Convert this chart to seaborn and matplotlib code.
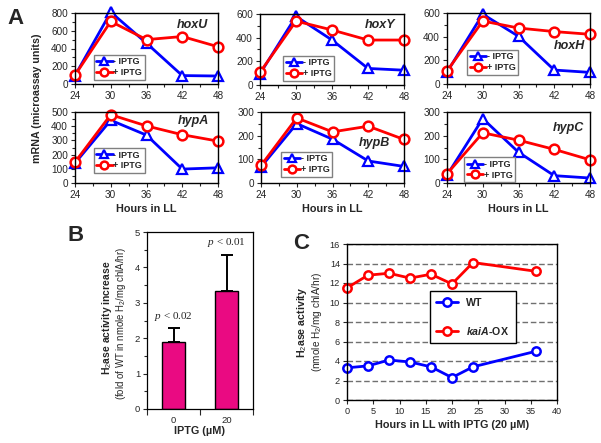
'''
Hydrogenase gene expression (A), H2ase fold increase (B) and H2ase time course (C)
'''

import numpy as np
import pandas as pd
import matplotlib
matplotlib.use('Agg')
import matplotlib.pyplot as plt
from matplotlib.ticker import MultipleLocator
import seaborn as sns

sns.set_style('ticks')
plt.rcParams['font.family'] = ['Liberation Sans', 'DejaVu Sans']
plt.rcParams['mathtext.fontset'] = 'custom'
plt.rcParams['mathtext.rm'] = 'Liberation Sans'
plt.rcParams['mathtext.it'] = 'Liberation Serif:italic'
plt.rcParams['mathtext.bf'] = 'Liberation Sans:bold'
plt.rcParams['mathtext.bfit'] = 'Liberation Sans:italic:bold'

# ---- data -------------------------------------------------------------------
hours_a = [24, 30, 36, 42, 48]
genes = ['hoxU', 'hoxY', 'hoxH', 'hypA', 'hypB', 'hypC']
minus_iptg = {
    'hoxU': [95, 810, 460, 95, 90],
    'hoxY': [95, 580, 380, 140, 125],
    'hoxH': [100, 590, 403, 118, 98],
    'hypA': [140, 442, 337, 98, 107],
    'hypB': [68, 251, 185, 93, 70],
    'hypC': [33, 272, 130, 31, 21],
}
plus_iptg = {
    'hoxU': [100, 705, 500, 535, 420],
    'hoxY': [107, 540, 465, 380, 380],
    'hoxH': [110, 532, 473, 443, 420],
    'hypA': [147, 481, 402, 340, 295],
    'hypB': [74, 275, 216, 240, 184],
    'hypC': [39, 212, 181, 142, 98],
}
y_max = {'hoxU': 800, 'hoxY': 600, 'hoxH': 600, 'hypA': 500, 'hypB': 300, 'hypC': 300}
y_step = {'hoxU': 200, 'hoxY': 200, 'hoxH': 200, 'hypA': 100, 'hypB': 100, 'hypC': 100}

iptg_labels = ['0', '20']
fold_increase = [1.88, 3.32]
fold_err = [0.40, 1.04]
p_labels = [r'$p$ < 0.02', r'$p$ < 0.01']
p_heights = [2.6, 4.69]

hours_c = [0, 4, 8, 12, 16, 20, 24, 36]
wt_activity = [3.3, 3.5, 4.1, 3.9, 3.4, 2.3, 3.4, 5.0]
kaia_activity = [11.5, 12.8, 13.0, 12.5, 12.9, 11.9, 14.1, 13.2]

BLUE = '#0000FF'
RED = '#FF0000'
PINK = '#EA0A82'

W, H = 601, 443
fig = plt.figure(figsize=(W / 100, H / 100), dpi=100)


def px_axes(left, top, right, bottom):
    return fig.add_axes([left / W, 1 - bottom / H, (right - left) / W, (bottom - top) / H])


def box(ax, lw=1.0):
    for sp in ax.spines.values():
        sp.set_visible(True)
        sp.set_linewidth(lw)
        sp.set_color('black')


# ---- panel A ----------------------------------------------------------------
a_boxes = {
    'hoxU': (75, 13, 218, 84), 'hoxY': (260, 14, 404, 85), 'hoxH': (447, 13, 590, 84),
    'hypA': (75, 112, 218, 183), 'hypB': (261, 112, 404, 183), 'hypC': (447, 112, 590, 183),
}
legend_pos = {'hoxU': (0.13, 0.06), 'hoxY': (0.16, 0.06), 'hoxH': (0.14, 0.13),
              'hypA': (0.13, 0.14), 'hypB': (0.14, 0.085), 'hypC': (0.12, 0.01)}
name_pos = {'hoxU': (0.93, 0.83), 'hoxY': (0.94, 0.85), 'hoxH': (0.965, 0.535),
            'hypA': (0.94, 0.87), 'hypB': (0.9, 0.56), 'hypC': (0.96, 0.77)}

for g in genes:
    ax = px_axes(*a_boxes[g])
    sns.lineplot(x=hours_a, y=minus_iptg[g], ax=ax, color=BLUE, marker='^', ms=7,
                 mfc='white', mec=BLUE, mew=1.6, lw=2, label='- IPTG', clip_on=False)
    sns.lineplot(x=hours_a, y=plus_iptg[g], ax=ax, color=RED, marker='o', ms=7,
                 mfc='white', mec=RED, mew=1.8, lw=2, label='+ IPTG', clip_on=False)
    ax.set_xlim(24, 48)
    ax.set_xticks(hours_a)
    ax.xaxis.set_minor_locator(MultipleLocator(3))
    ax.set_ylim(0, y_max[g])
    ax.set_yticks(np.arange(0, y_max[g] + 1, y_step[g]))
    ax.yaxis.set_minor_locator(MultipleLocator(y_step[g] / 2))
    ax.tick_params(which='major', length=3, width=0.8, labelsize=7.2, pad=2)
    ax.tick_params(which='minor', length=2, width=0.8)
    box(ax)
    ax.set_ylabel('')
    if g.startswith('hyp'):
        ax.set_xlabel('Hours in LL', fontweight='bold', fontsize=7.8, labelpad=3)
    else:
        ax.set_xlabel('')
    ax.text(*name_pos[g], g, transform=ax.transAxes, ha='right', va='center',
            fontsize=9, fontweight='bold', fontstyle='italic')
    leg = ax.legend(loc='lower left', bbox_to_anchor=legend_pos[g], borderaxespad=0,
                    prop={'weight': 'bold', 'size': 6.5}, fancybox=False, framealpha=1,
                    edgecolor='#808080', handlelength=1.8, handletextpad=0.1,
                    borderpad=0.3, labelspacing=0.2, markerscale=0.8)
    leg.get_frame().set_linewidth(1.0)

fig.text(37 / W, 1 - 98 / H, 'mRNA (microassay units)', rotation=90, ha='center',
         va='center', fontweight='bold', fontsize=7.7)
fig.text(16 / W, 1 - 18 / H, 'A', ha='center', va='center', fontweight='bold', fontsize=16)

# ---- panel B ----------------------------------------------------------------
axb = px_axes(147, 232, 253, 409)
df_b = pd.DataFrame({'iptg': iptg_labels, 'fold': fold_increase})
sns.barplot(data=df_b, x='iptg', y='fold', ax=axb, color=PINK, saturation=1,
            edgecolor='black', linewidth=1.0, width=0.45, errorbar=None)
axb.errorbar(x=[0, 1], y=fold_increase, yerr=[np.zeros(2), fold_err], fmt='none',
             ecolor='black', elinewidth=1.4, capsize=4, capthick=1.4)
for i, (lab, h) in enumerate(zip(p_labels, p_heights)):
    axb.text(i, h, lab, ha='center', va='center', family='Liberation Serif', fontsize=8)
axb.set_xlim(-0.5, 1.5)
axb.set_ylim(0, 5)
axb.yaxis.set_minor_locator(MultipleLocator(0.5))
axb.set_xticks([-0.5, 0.5, 1.5], minor=True)
axb.tick_params(axis='x', which='major', length=0, labelsize=6.8, pad=5)
axb.tick_params(axis='x', which='minor', length=4, width=0.8)
axb.tick_params(axis='y', which='major', length=3, width=0.8, labelsize=6.8, pad=2)
axb.tick_params(axis='y', which='minor', length=2, width=0.8)
box(axb, 0.9)
axb.set_ylabel('')
axb.set_xlabel('IPTG (\u00b5M)', fontweight='bold', fontsize=7.8, labelpad=1)
fig.text(107 / W, 1 - 318 / H, 'H$_2$ase activity increase', rotation=90, ha='center',
         va='center', fontweight='bold', fontsize=7.5)
fig.text(121 / W, 1 - 323 / H, '(fold of WT in nmole H$_2$/mg chlA/hr)', rotation=90,
         ha='center', va='center', fontsize=6.9)
fig.text(76 / W, 1 - 236 / H, 'B', ha='center', va='center', fontweight='bold', fontsize=16)

# ---- panel C ----------------------------------------------------------------
axc = px_axes(347, 244, 557, 400)
axc.set_axisbelow(True)
axc.yaxis.grid(True, linestyle=(0, (4, 2)), color='#707070', lw=1.0)
sns.lineplot(x=hours_c, y=wt_activity, ax=axc, color=BLUE, marker='o', ms=6,
             mfc='white', mec=BLUE, mew=1.8, lw=2, label='WT', clip_on=False)
sns.lineplot(x=hours_c, y=kaia_activity, ax=axc, color=RED, marker='o', ms=6,
             mfc='white', mec=RED, mew=1.8, lw=2, label=r'$\mathbfit{kaiA}$-OX', clip_on=False)
axc.set_xlim(0, 40)
axc.set_ylim(0, 16)
axc.set_xticks(range(0, 41, 5))
axc.set_yticks(range(0, 17, 2))
axc.tick_params(length=3, width=0.8, labelsize=6.6, pad=2)
box(axc)
axc.set_ylabel('')
axc.set_xlabel('Hours in LL with IPTG (20 \u00b5M)', fontweight='bold', fontsize=7.8, labelpad=3)
leg = axc.legend(loc='lower left', bbox_to_anchor=(0.395, 0.365), borderaxespad=0,
                 prop={'weight': 'bold', 'size': 7.7}, fancybox=False, framealpha=1,
                 edgecolor='black', handlelength=2.0, handletextpad=0.8,
                 borderpad=0.6, labelspacing=1.6)
leg.get_frame().set_linewidth(1.0)
fig.text(302 / W, 1 - 322 / H, 'H$_2$ase activity', rotation=90, ha='center',
         va='center', fontweight='bold', fontsize=7.7)
fig.text(317 / W, 1 - 322 / H, '(nmole H$_2$/mg chlA/hr)', rotation=90,
         ha='center', va='center', fontsize=7.2)
fig.text(301 / W, 1 - 243 / H, 'C', ha='center', va='center', fontweight='bold', fontsize=16)

fig.savefig('out.png', dpi=100)
